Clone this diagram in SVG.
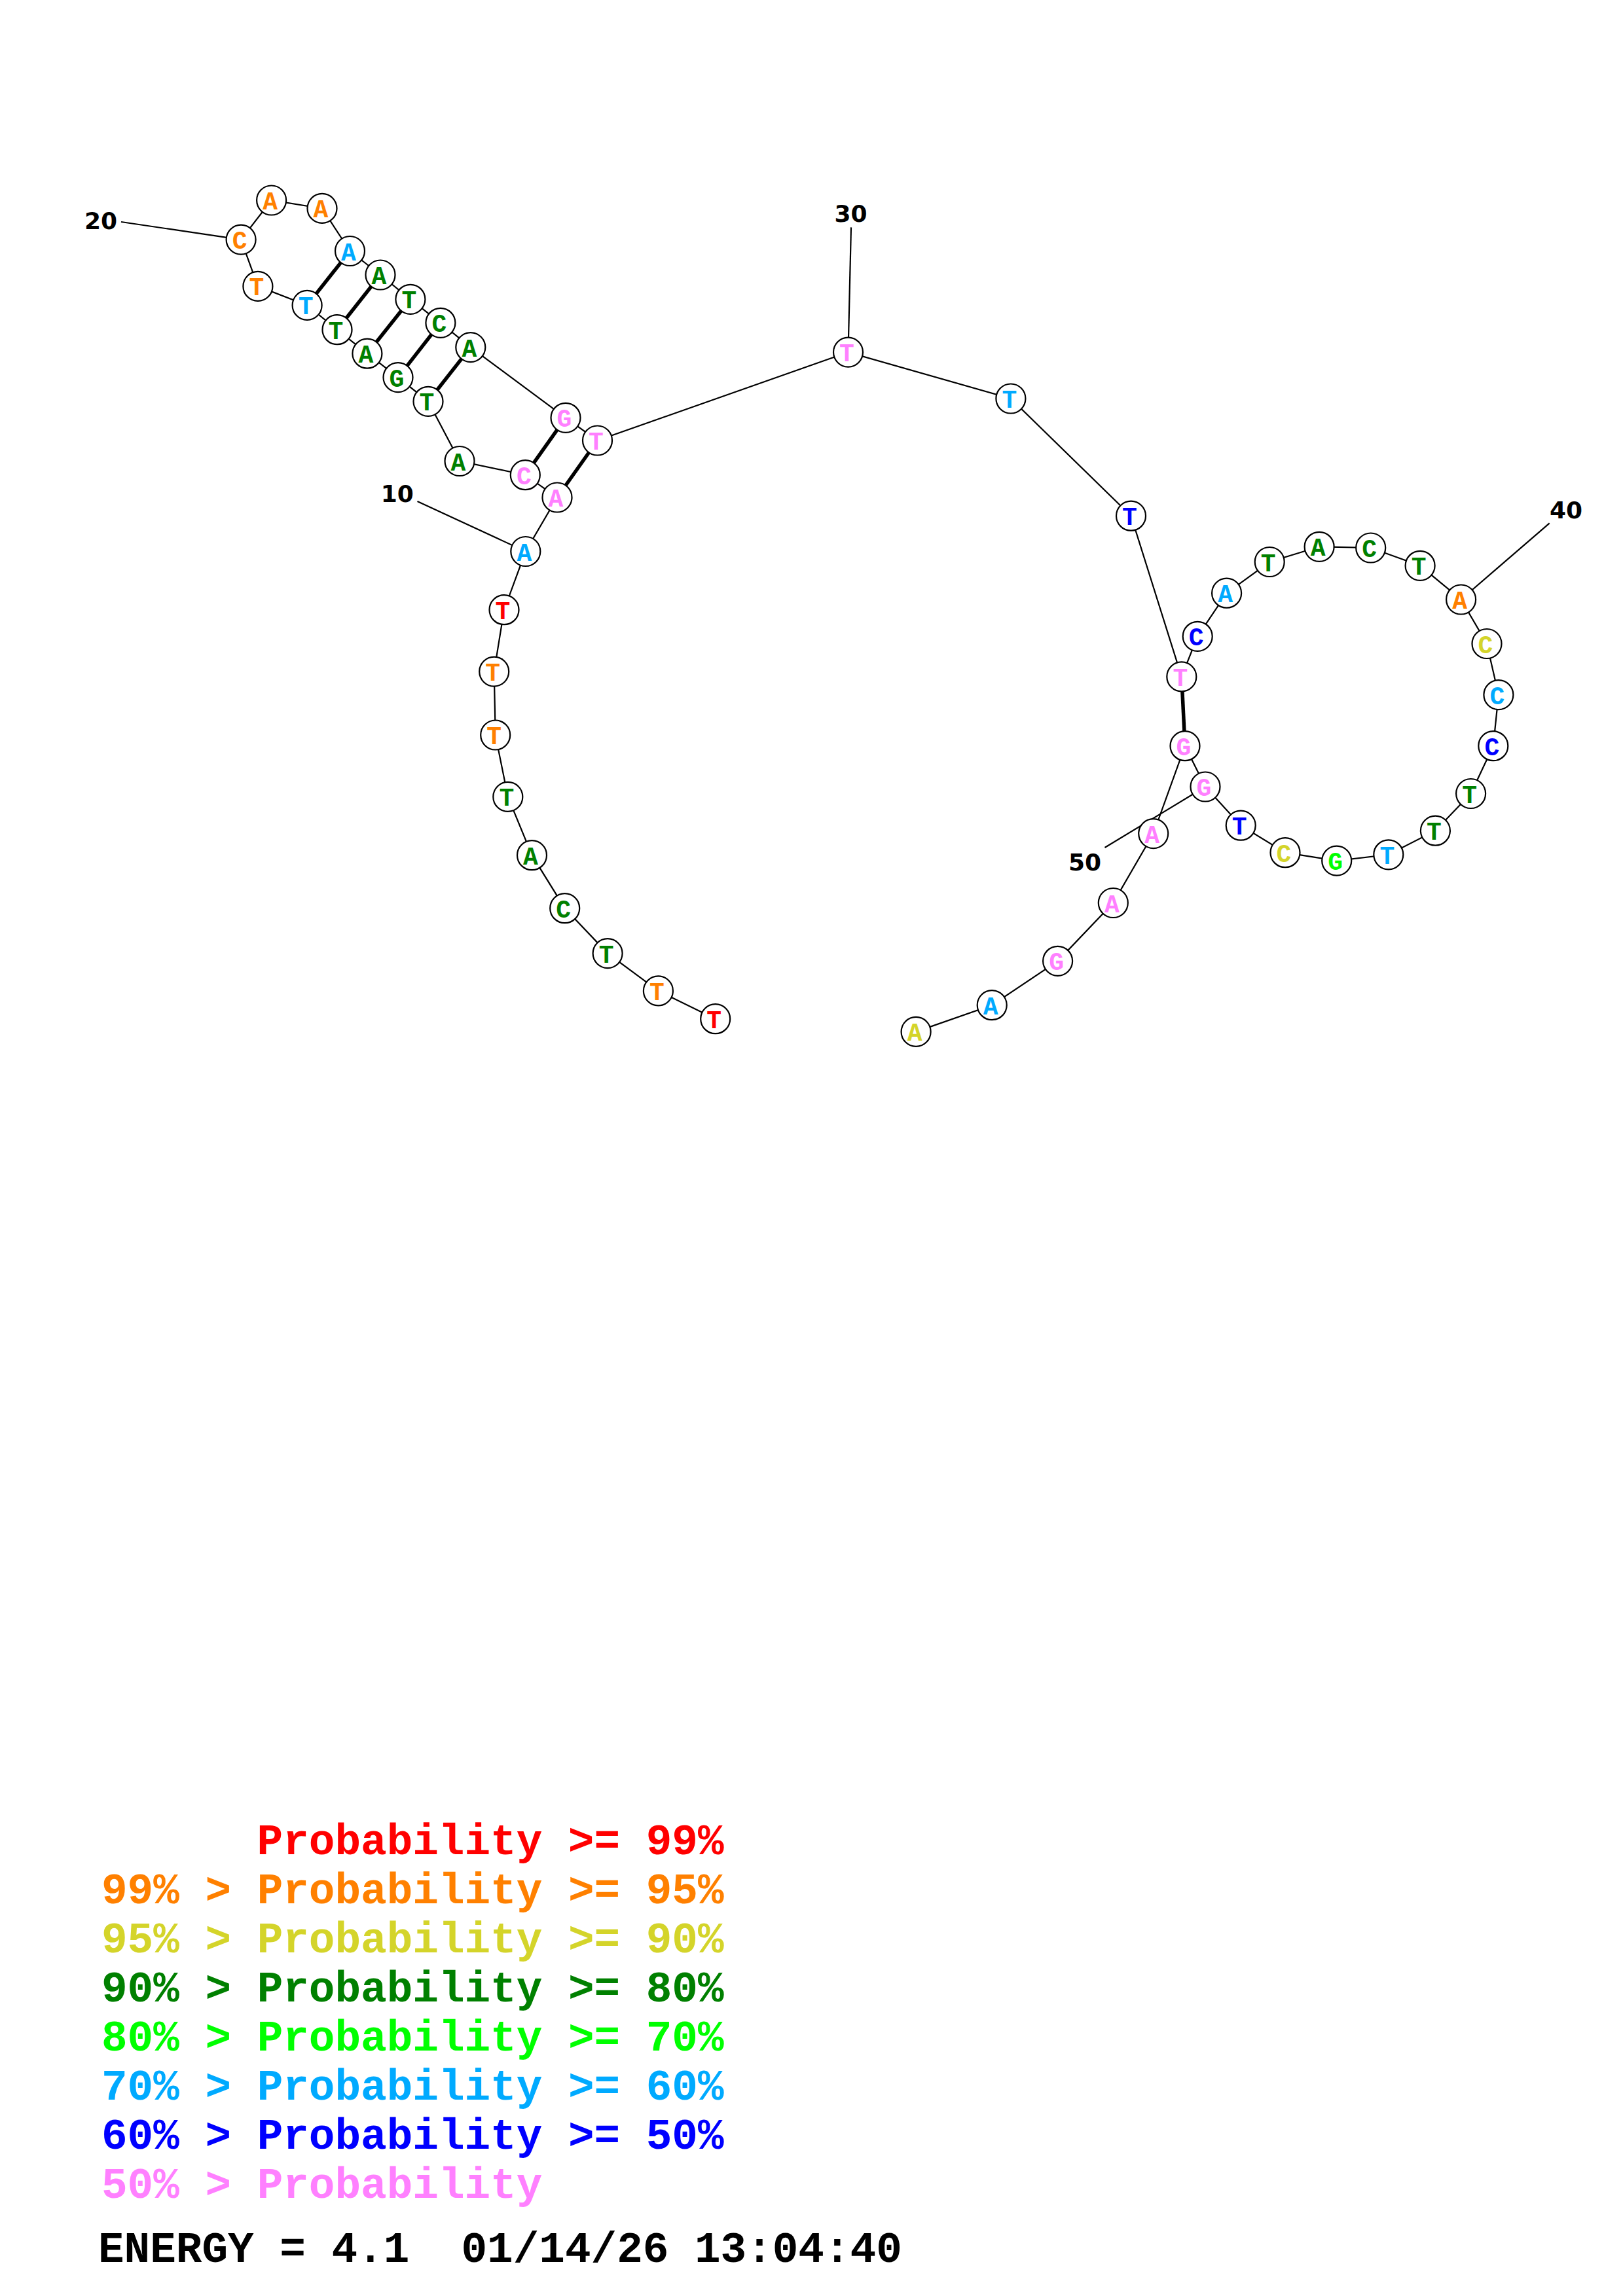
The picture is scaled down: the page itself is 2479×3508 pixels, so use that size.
<svg xmlns="http://www.w3.org/2000/svg" width="2479" height="3508" viewBox="0 0 2479 3508">
<style>
.bb{stroke:#000;stroke-width:2.2;fill:none}
.bp{stroke:#000;stroke-width:5.5;fill:none}
.n circle{fill:#fff;stroke:#000;stroke-width:2.2}
.n text{font-family:"Liberation Mono","Courier New",monospace;font-weight:bold;font-size:38px;text-anchor:middle}
.lbl{font-family:"DejaVu Sans",sans-serif;font-weight:bold;font-size:36px;text-anchor:middle;fill:#000}
.leg{font-family:"Liberation Mono","Courier New",monospace;font-weight:bold;font-size:66px}
.r{fill:#FF0000}.o{fill:#FF8000}.y{fill:#D4D42A}.g{fill:#008000}.l{fill:#00FF00}.c{fill:#00AAFF}.b{fill:#0000FF}.p{fill:#FF80FF}.k{fill:#000}
</style>
<rect width="2479" height="3508" fill="#fff"/>
<g id="connectors">
<polyline class="bb" points="1092.7,1556.7 1005.4,1513.9 928.1,1456.6 862.7,1387.7 812.5,1306.7 775.8,1217.4 756.7,1123 754.7,1026.1 770,931.7 802.8,842.5 851,760 802.3,725.7 702,704.5 654,613.3 608,576.6 560.9,540.2 515,503.7 469.1,466.4 393.9,437.4 368.1,366.1 414.6,306 492,318.4 534.5,383.5 581,420 626.9,457.3 672.9,493.3 718.8,530.6 864,638.3 912.5,673 1295.5,538.1 1543.9,609 1727.5,788.2 1804.8,1033.9 1829.2,972.3 1873.6,906.2 1939.2,858.5 2015.1,835.3 2093.7,837 2169.1,864.3 2231.6,916 2271,983.5 2288.9,1061.6 2280.8,1139.7 2246.6,1212.5 2192.4,1269.2 2120.8,1305.8 2041.7,1315.1 1963,1302.7 1895.2,1261.2 1841,1202 1810,1139.7 1761.7,1273.6 1700.3,1379.5 1615.6,1468.3 1515.2,1535.7 1399.1,1576.4"/>
<line class="bp" x1="851" y1="760" x2="912.5" y2="673"/>
<line class="bp" x1="802.3" y1="725.7" x2="864" y2="638.3"/>
<line class="bp" x1="654" y1="613.3" x2="718.8" y2="530.6"/>
<line class="bp" x1="608" y1="576.6" x2="672.9" y2="493.3"/>
<line class="bp" x1="560.9" y1="540.2" x2="626.9" y2="457.3"/>
<line class="bp" x1="515" y1="503.7" x2="581" y2="420"/>
<line class="bp" x1="469.1" y1="466.4" x2="534.5" y2="383.5"/>
<line class="bp" x1="1804.8" y1="1033.9" x2="1810" y2="1139.7"/>
<line class="bb" x1="637.5" y1="766" x2="802.8" y2="842.5"/>
<line class="bb" x1="185" y1="339" x2="368.1" y2="366.1"/>
<line class="bb" x1="1300" y1="347.4" x2="1295.5" y2="538.1"/>
<line class="bb" x1="2366.7" y1="799.3" x2="2231.6" y2="916"/>
<line class="bb" x1="1687.5" y1="1295" x2="1841" y2="1202"/>
</g>
<g id="n1" class="n"><circle cx="1092.7" cy="1556.7" r="22.5"/><text x="1090.7" y="1570.7" class="r">T</text></g>
<g id="n2" class="n"><circle cx="1005.4" cy="1513.9" r="22.5"/><text x="1003.4" y="1527.9" class="o">T</text></g>
<g id="n3" class="n"><circle cx="928.1" cy="1456.6" r="22.5"/><text x="926.1" y="1470.6" class="g">T</text></g>
<g id="n4" class="n"><circle cx="862.7" cy="1387.7" r="22.5"/><text x="860.7" y="1401.7" class="g">C</text></g>
<g id="n5" class="n"><circle cx="812.5" cy="1306.7" r="22.5"/><text x="810.5" y="1320.7" class="g">A</text></g>
<g id="n6" class="n"><circle cx="775.8" cy="1217.4" r="22.5"/><text x="773.8" y="1231.4" class="g">T</text></g>
<g id="n7" class="n"><circle cx="756.7" cy="1123" r="22.5"/><text x="754.7" y="1137" class="o">T</text></g>
<g id="n8" class="n"><circle cx="754.7" cy="1026.1" r="22.5"/><text x="752.7" y="1040.1" class="o">T</text></g>
<g id="n9" class="n"><circle cx="770" cy="931.7" r="22.5"/><text x="768" y="945.7" class="r">T</text></g>
<g id="n10" class="n"><circle cx="802.8" cy="842.5" r="22.5"/><text x="800.8" y="856.5" class="c">A</text></g>
<g id="n11" class="n"><circle cx="851" cy="760" r="22.5"/><text x="849" y="774" class="p">A</text></g>
<g id="n12" class="n"><circle cx="802.3" cy="725.7" r="22.5"/><text x="800.3" y="739.7" class="p">C</text></g>
<g id="n13" class="n"><circle cx="702" cy="704.5" r="22.5"/><text x="700" y="718.5" class="g">A</text></g>
<g id="n14" class="n"><circle cx="654" cy="613.3" r="22.5"/><text x="652" y="627.3" class="g">T</text></g>
<g id="n15" class="n"><circle cx="608" cy="576.6" r="22.5"/><text x="606" y="590.6" class="g">G</text></g>
<g id="n16" class="n"><circle cx="560.9" cy="540.2" r="22.5"/><text x="558.9" y="554.2" class="g">A</text></g>
<g id="n17" class="n"><circle cx="515" cy="503.7" r="22.5"/><text x="513" y="517.7" class="g">T</text></g>
<g id="n18" class="n"><circle cx="469.1" cy="466.4" r="22.5"/><text x="467.1" y="480.4" class="c">T</text></g>
<g id="n19" class="n"><circle cx="393.9" cy="437.4" r="22.5"/><text x="391.9" y="451.4" class="o">T</text></g>
<g id="n20" class="n"><circle cx="368.1" cy="366.1" r="22.5"/><text x="366.1" y="380.1" class="o">C</text></g>
<g id="n21" class="n"><circle cx="414.6" cy="306" r="22.5"/><text x="412.6" y="320" class="o">A</text></g>
<g id="n22" class="n"><circle cx="492" cy="318.4" r="22.5"/><text x="490" y="332.4" class="o">A</text></g>
<g id="n23" class="n"><circle cx="534.5" cy="383.5" r="22.5"/><text x="532.5" y="397.5" class="c">A</text></g>
<g id="n24" class="n"><circle cx="581" cy="420" r="22.5"/><text x="579" y="434" class="g">A</text></g>
<g id="n25" class="n"><circle cx="626.9" cy="457.3" r="22.5"/><text x="624.9" y="471.3" class="g">T</text></g>
<g id="n26" class="n"><circle cx="672.9" cy="493.3" r="22.5"/><text x="670.9" y="507.3" class="g">C</text></g>
<g id="n27" class="n"><circle cx="718.8" cy="530.6" r="22.5"/><text x="716.8" y="544.6" class="g">A</text></g>
<g id="n28" class="n"><circle cx="864" cy="638.3" r="22.5"/><text x="862" y="652.3" class="p">G</text></g>
<g id="n29" class="n"><circle cx="912.5" cy="673" r="22.5"/><text x="910.5" y="687" class="p">T</text></g>
<g id="n30" class="n"><circle cx="1295.5" cy="538.1" r="22.5"/><text x="1293.5" y="552.1" class="p">T</text></g>
<g id="n31" class="n"><circle cx="1543.9" cy="609" r="22.5"/><text x="1541.9" y="623" class="c">T</text></g>
<g id="n32" class="n"><circle cx="1727.5" cy="788.2" r="22.5"/><text x="1725.5" y="802.2" class="b">T</text></g>
<g id="n33" class="n"><circle cx="1804.8" cy="1033.9" r="22.5"/><text x="1802.8" y="1047.9" class="p">T</text></g>
<g id="n34" class="n"><circle cx="1829.2" cy="972.3" r="22.5"/><text x="1827.2" y="986.3" class="b">C</text></g>
<g id="n35" class="n"><circle cx="1873.6" cy="906.2" r="22.5"/><text x="1871.6" y="920.2" class="c">A</text></g>
<g id="n36" class="n"><circle cx="1939.2" cy="858.5" r="22.5"/><text x="1937.2" y="872.5" class="g">T</text></g>
<g id="n37" class="n"><circle cx="2015.1" cy="835.3" r="22.5"/><text x="2013.1" y="849.3" class="g">A</text></g>
<g id="n38" class="n"><circle cx="2093.7" cy="837" r="22.5"/><text x="2091.7" y="851" class="g">C</text></g>
<g id="n39" class="n"><circle cx="2169.1" cy="864.3" r="22.5"/><text x="2167.1" y="878.3" class="g">T</text></g>
<g id="n40" class="n"><circle cx="2231.6" cy="916" r="22.5"/><text x="2229.6" y="930" class="o">A</text></g>
<g id="n41" class="n"><circle cx="2271" cy="983.5" r="22.5"/><text x="2269" y="997.5" class="y">C</text></g>
<g id="n42" class="n"><circle cx="2288.9" cy="1061.6" r="22.5"/><text x="2286.9" y="1075.6" class="c">C</text></g>
<g id="n43" class="n"><circle cx="2280.8" cy="1139.7" r="22.5"/><text x="2278.8" y="1153.7" class="b">C</text></g>
<g id="n44" class="n"><circle cx="2246.6" cy="1212.5" r="22.5"/><text x="2244.6" y="1226.5" class="g">T</text></g>
<g id="n45" class="n"><circle cx="2192.4" cy="1269.2" r="22.5"/><text x="2190.4" y="1283.2" class="g">T</text></g>
<g id="n46" class="n"><circle cx="2120.8" cy="1305.8" r="22.5"/><text x="2118.8" y="1319.8" class="c">T</text></g>
<g id="n47" class="n"><circle cx="2041.7" cy="1315.1" r="22.5"/><text x="2039.7" y="1329.1" class="l">G</text></g>
<g id="n48" class="n"><circle cx="1963" cy="1302.7" r="22.5"/><text x="1961" y="1316.7" class="y">C</text></g>
<g id="n49" class="n"><circle cx="1895.2" cy="1261.2" r="22.5"/><text x="1893.2" y="1275.2" class="b">T</text></g>
<g id="n50" class="n"><circle cx="1841" cy="1202" r="22.5"/><text x="1839" y="1216" class="p">G</text></g>
<g id="n51" class="n"><circle cx="1810" cy="1139.7" r="22.5"/><text x="1808" y="1153.7" class="p">G</text></g>
<g id="n52" class="n"><circle cx="1761.7" cy="1273.6" r="22.5"/><text x="1759.7" y="1287.6" class="p">A</text></g>
<g id="n53" class="n"><circle cx="1700.3" cy="1379.5" r="22.5"/><text x="1698.3" y="1393.5" class="p">A</text></g>
<g id="n54" class="n"><circle cx="1615.6" cy="1468.3" r="22.5"/><text x="1613.6" y="1482.3" class="p">G</text></g>
<g id="n55" class="n"><circle cx="1515.2" cy="1535.7" r="22.5"/><text x="1513.2" y="1549.7" class="c">A</text></g>
<g id="n56" class="n"><circle cx="1399.1" cy="1576.4" r="22.5"/><text x="1397.1" y="1590.4" class="y">A</text></g>
<g id="labels">
<text class="lbl" x="606.8" y="767">10</text>
<text class="lbl" x="154" y="350">20</text>
<text class="lbl" x="1299.5" y="339">30</text>
<text class="lbl" x="2392" y="792">40</text>
<text class="lbl" x="1657" y="1330">50</text>
</g>
<g id="legend" class="leg">
<text x="392.6" y="2833" class="r">Probability &gt;= 99%</text>
<text x="155" y="2908" class="o">99% &gt; Probability &gt;= 95%</text>
<text x="155" y="2983" class="y">95% &gt; Probability &gt;= 90%</text>
<text x="155" y="3058" class="g">90% &gt; Probability &gt;= 80%</text>
<text x="155" y="3133" class="l">80% &gt; Probability &gt;= 70%</text>
<text x="155" y="3208" class="c">70% &gt; Probability &gt;= 60%</text>
<text x="155" y="3283" class="b">60% &gt; Probability &gt;= 50%</text>
<text x="155" y="3358" class="p">50% &gt; Probability</text>
<text x="150" y="3456" class="k" xml:space="preserve">ENERGY = 4.1  01/14/26 13:04:40</text>
</g>
</svg>
